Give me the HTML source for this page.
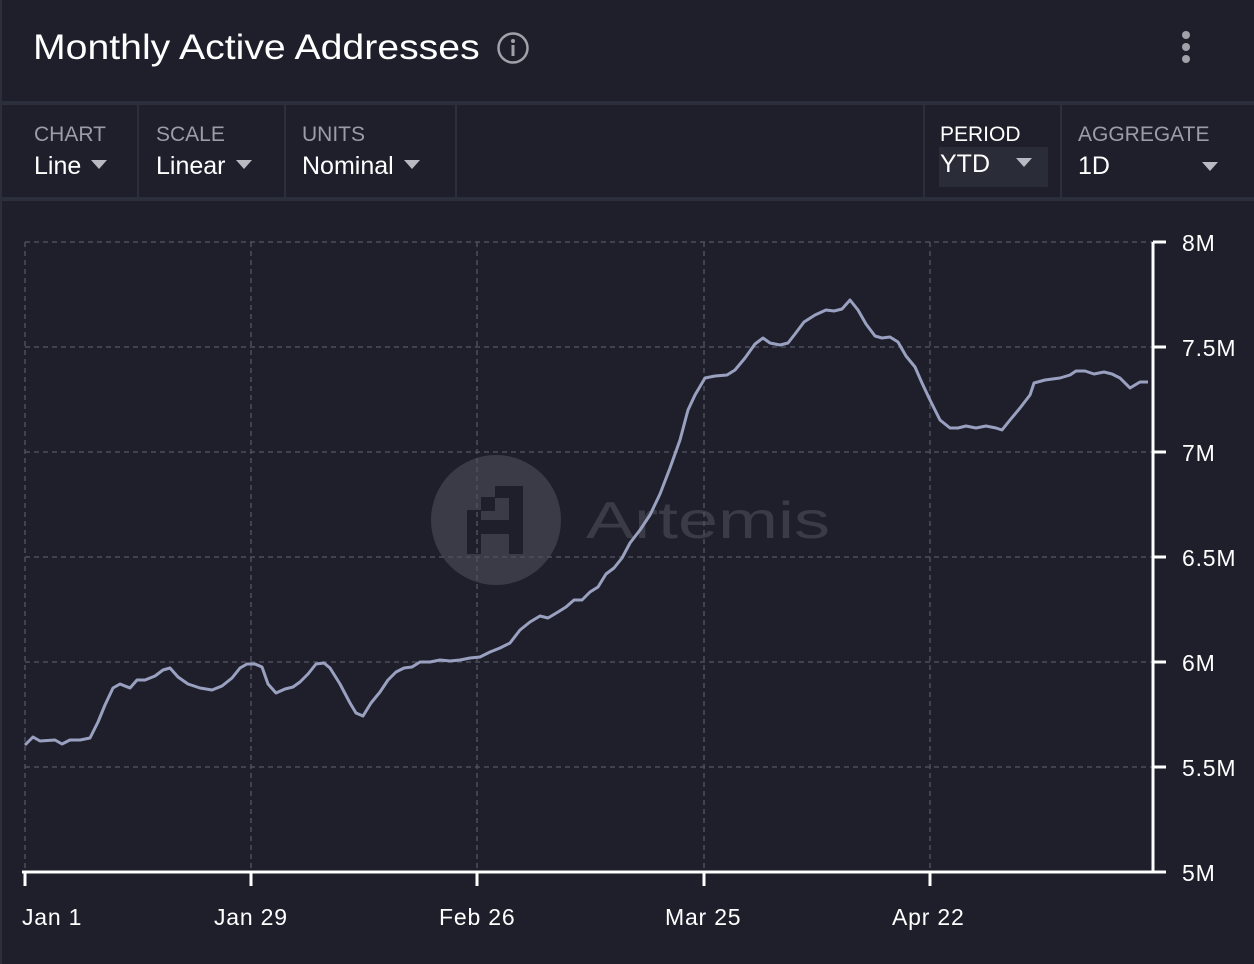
<!DOCTYPE html>
<html><head><meta charset="utf-8"><style>
body{margin:0;background:#1e1f2b;width:1254px;height:964px;overflow:hidden;font-family:"Liberation Sans",sans-serif;color:#fff;position:relative}
.t{position:absolute;white-space:nowrap}
.lab{font-size:21px;color:#9a9ca6}
.val{font-size:25px;color:#fff}
.sep{position:absolute;background:#2b2f3b}
.tri{display:inline-block;width:0;height:0;border-left:8px solid transparent;border-right:8px solid transparent;border-top:9px solid #b8bac2;vertical-align:middle;margin-left:10px;position:relative;top:-3px}
</style></head><body>
<div class="t" style="left:33px;top:28px;font-size:35px;transform:scaleX(1.12);transform-origin:0 0">Monthly Active Addresses</div>
<svg style="position:absolute;left:496px;top:31px" width="34" height="34"><circle cx="17" cy="17" r="14.5" fill="none" stroke="#a0a2aa" stroke-width="2.5"/><circle cx="17" cy="10" r="2" fill="#a0a2aa"/><rect x="15.5" y="14" width="3" height="11" fill="#a0a2aa"/></svg>
<svg style="position:absolute;left:1178px;top:30px" width="16" height="36"><circle cx="8" cy="5" r="4" fill="#a0a2aa"/><circle cx="8" cy="17" r="4" fill="#a0a2aa"/><circle cx="8" cy="29" r="4" fill="#a0a2aa"/></svg>
<div class="sep" style="left:0;top:101px;width:1254px;height:4px"></div>
<div class="sep" style="left:0;top:197px;width:1254px;height:4px"></div>
<div class="sep" style="left:0;top:0;width:2px;height:964px"></div>
<div class="sep" style="left:137px;top:105px;width:2px;height:92px"></div>
<div class="sep" style="left:284px;top:105px;width:2px;height:92px"></div>
<div class="sep" style="left:455px;top:105px;width:2px;height:92px"></div>
<div class="sep" style="left:923px;top:105px;width:2px;height:92px"></div>
<div class="sep" style="left:1060px;top:105px;width:2px;height:92px"></div>
<div style="position:absolute;left:939px;top:147px;width:109px;height:40px;background:#2a2c38"></div>
<div class="t lab" style="left:34px;top:123px">CHART</div><div class="t val" style="left:34px;top:152px">Line<span class="tri"></span></div>
<div class="t lab" style="left:156px;top:123px">SCALE</div><div class="t val" style="left:156px;top:152px">Linear<span class="tri"></span></div>
<div class="t lab" style="left:302px;top:123px">UNITS</div><div class="t val" style="left:302px;top:152px">Nominal<span class="tri"></span></div>
<div class="t lab" style="left:940px;top:123px;color:#fff">PERIOD</div><div class="t val" style="left:940px;top:150px">YTD<span class="tri" style="margin-left:26px"></span></div>
<div class="t lab" style="left:1078px;top:123px">AGGREGATE</div><div class="t val" style="left:1078px;top:152px">1D</div><span class="tri" style="position:absolute;left:1192px;top:162px"></span>
<svg style="position:absolute;left:0;top:0" width="1254" height="964">
<g fill="#3a3b47"><circle cx="496" cy="520" r="65"/></g>
<g fill="#1e1f2b"><rect x="467" y="510" width="14" height="44"/><rect x="481" y="497" width="14" height="14"/><rect x="481" y="520" width="28" height="14"/><rect x="509" y="486" width="14" height="68"/><rect x="495" y="486" width="14" height="12"/></g>
<text x="586" y="538" font-family="Liberation Sans,sans-serif" font-size="52" fill="#3a3b47" textLength="244" lengthAdjust="spacingAndGlyphs">Artemis</text>
<g stroke="#4d4f5c" stroke-width="1.5" stroke-dasharray="5,4" fill="none">
<path d="M25 242H1153M25 347H1153M25 452H1153M25 557H1153M25 662H1153M25 767H1153"/>
<path d="M25 242V872M251 242V872M477 242V872M704 242V872M930 242V872"/>
</g>
<polyline fill="none" stroke="#9aa1c0" stroke-width="3" stroke-linejoin="round" points="25,745 33,737 40,741 55,740 62,744 70,740 80,740 90,738 98,722 105,705 113,688 120,684 130,688 137,680 145,680 155,676 163,670 170,668 178,677 188,684 200,688 212,690 222,686 232,678 240,668 247,664 255,664 262,667 268,684 276,693 285,689 293,687 300,682 308,674 316,664 324,663 330,668 340,684 350,703 356,713 363,716 371,703 380,692 388,680 396,672 404,668 412,667 420,662 430,662 440,660 450,661 460,660 470,658 480,657 490,652 500,648 510,643 520,630 530,622 540,616 548,618 558,612 566,607 574,600 582,600 590,592 598,587 606,574 614,568 622,558 630,543 640,530 650,515 660,494 670,468 680,440 688,410 695,395 705,378 715,376 727,375 735,370 745,358 755,344 763,338 770,343 780,345 788,343 795,334 804,322 815,315 826,310 834,311 842,309 850,300 858,310 866,324 875,336 882,338 890,337 898,342 906,356 915,367 922,383 930,400 940,420 950,428 958,428 966,426 976,428 986,426 996,428 1002,430 1010,420 1020,408 1030,395 1034,383 1045,380 1060,378 1070,375 1076,371 1085,371 1094,374 1104,372 1112,374 1120,378 1130,388 1140,382 1148,382"/>
<g stroke="#fff" stroke-width="3" fill="none">
<path d="M1153 242V872"/>
<path d="M1153 242H1166M1153 347H1166M1153 452H1166M1153 557H1166M1153 662H1166M1153 767H1166"/>
<path d="M22 872H1166"/>
<path d="M25 872V886M251 872V886M477 872V886M704 872V886M930 872V886"/>
</g>
<g font-family="Liberation Sans,sans-serif" font-size="23" fill="#fff" letter-spacing="0.8">
<text x="1182" y="251">8M</text><text x="1182" y="356">7.5M</text><text x="1182" y="461">7M</text><text x="1182" y="566">6.5M</text><text x="1182" y="671">6M</text><text x="1182" y="776">5.5M</text><text x="1182" y="881">5M</text>
<text x="22" y="925">Jan 1</text><text x="214" y="925">Jan 29</text><text x="439" y="925">Feb 26</text><text x="665" y="925">Mar 25</text><text x="892" y="925">Apr 22</text>
</g>
</svg>
</body></html>
